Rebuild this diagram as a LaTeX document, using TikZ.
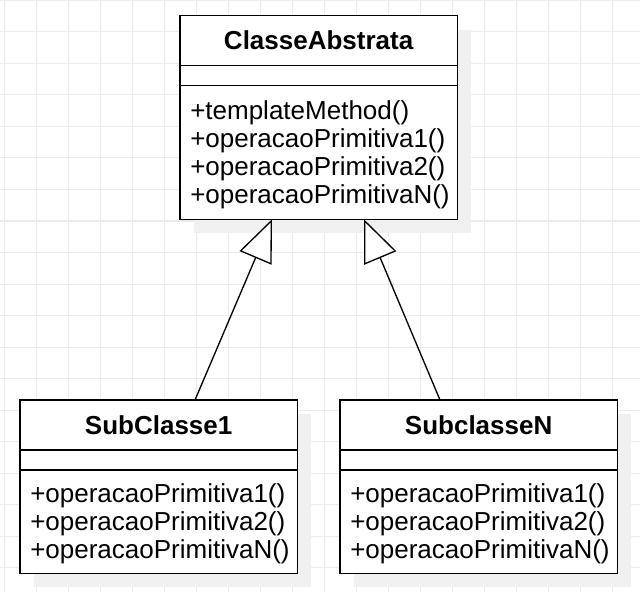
\documentclass[tikz,border=0pt]{standalone}
\usepackage{fontspec}
\setmainfont{Liberation Sans}
\usetikzlibrary{arrows.meta}
\usetikzlibrary{calc}

\tikzset{
  gridline/.style={line width=0.75pt, draw=black!8},
  shadowbox/.style={fill=black!6, draw=none},
  classbox/.style={draw, line width=1.1pt, fill=white, rectangle, inner sep=0pt, outer sep=0pt, anchor=north west},
  classtitle/.style={font=\bfseries\fontsize{19.5}{21.2}\selectfont, inner sep=0pt},
  classmethods/.style={font=\fontsize{19.5}{21.2}\selectfont, align=left, inner sep=0pt, anchor=west},
  inherit/.style={line width=1pt, -{Triangle[fill=white,length=31.5pt,width=26pt,line width=1pt]}}
}

\begin{document}
\begin{tikzpicture}[x=0.75pt,y=-0.75pt]
% name, left, top, width, height, title, methods
\newcommand{\umlclass}[7]{
  \fill[shadowbox] (#2+14,#3+14) rectangle ++(#4,#5);
  \node[classbox, minimum width=#4*0.75pt, minimum height=#5*0.75pt] (#1) at (#2,#3) {};
  \draw[line width=1.1pt] (#2,#3+50) -- (#2+#4,#3+50);
  \draw[line width=1.1pt] (#2,#3+70) -- (#2+#4,#3+70);
  \node[classtitle] (#1-title) at (#2+#4/2,#3+25) {#6};
  \node[classmethods] (#1-methods) at (#2+10,{#3+70+(#5-70)/2+2.3}) {#7};
}

\useasboundingbox (0,0) rectangle (640,592);
\fill[white] (0,0) rectangle (640,592);
\foreach \gx in {4,36,...,636} \draw[gridline] (\gx,0) -- (\gx,592);
\foreach \gy in {0.5,32,...,592} \draw[gridline] (0,\gy) -- (640,\gy);

\umlclass{abstrata}{180}{15.7}{277.3}{203.6}{ClasseAbstrata}
  {+templateMethod()\\+operacaoPrimitiva1()\\+operacaoPrimitiva2()\\+operacaoPrimitivaN()}
\umlclass{sub1}{20}{400}{277.3}{173.3}{SubClasse1}
  {+operacaoPrimitiva1()\\+operacaoPrimitiva2()\\+operacaoPrimitivaN()}
\umlclass{subn}{340}{400}{277.3}{173.3}{SubclasseN}
  {+operacaoPrimitiva1()\\+operacaoPrimitiva2()\\+operacaoPrimitivaN()}

\draw[inherit] ([shift={(175,0)}]sub1.north west) -- ([shift={(92,0)}]abstrata.south west);
\draw[inherit] ([shift={(100,0)}]subn.north west) -- ([shift={(184,0)}]abstrata.south west);

\end{tikzpicture}
\end{document}
